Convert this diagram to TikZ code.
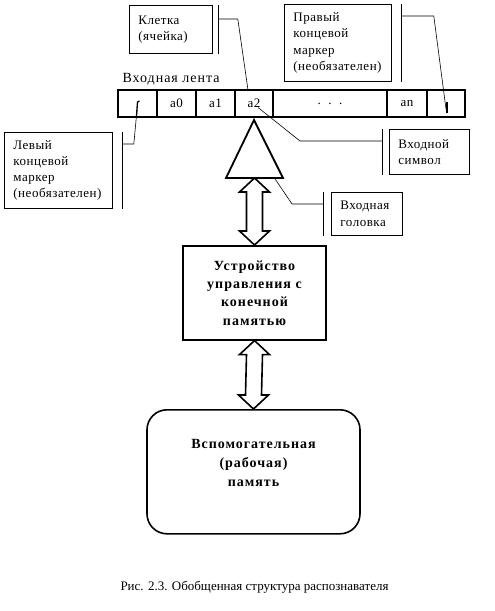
\documentclass[tikz,border=0pt]{standalone}
\usepackage{fontspec}
\setmainfont{Liberation Serif}
\newfontfamily\notefont{Liberation Serif}[LetterSpace=4]
\newfontfamily\widefont{Liberation Serif}[LetterSpace=7]
\usetikzlibrary{positioning,calc}

% double block arrow from #1 (upper tip) to #2 (lower tip)
\newcommand{\twoway}[2]{%
  \draw[block] (#1) -- ++(15,14) -- ++(-7,0) -- ($(#2)+(8,-14)$) -- ++(7,0)
    -- (#2) -- ++(-15,-14) -- ++(7,0) -- ($(#1)+(-8,14)$) -- ++(-7,0) -- cycle;}

\begin{document}
\begin{tikzpicture}[
        x=1pt, y=-1pt,
        every node/.style={font=\fontsize{13}{16.3}\notefont},
        note/.style={rectangle, draw, line width=0.8pt, anchor=north west, align=left, inner xsep=9pt, inner ysep=2pt},
        cell/.style={rectangle, draw, line width=1.6pt, minimum height=27pt, inner sep=0pt, outer sep=0pt},
        ctrl/.style={rectangle, draw, line width=1.6pt, align=center, minimum width=143pt, minimum height=94pt, font=\fontsize{14}{18.3}\widefont\bfseries},
        memory/.style={rectangle, draw, line width=1.6pt, rounded corners=20pt, align=center, minimum width=213pt, minimum height=124pt, text depth=17pt, font=\fontsize{14}{19}\widefont\bfseries},
        block/.style={line width=1.6pt, fill=white, line join=miter},
        callout/.style={line width=0.6pt}
    ]
    \useasboundingbox (0,0) rectangle (495,611);

    % Input tape
    \node[anchor=base west, font=\fontsize{14}{16}\widefont] (tapelabel) at (119,82) {Входная лента};
    \node[cell, anchor=north west, minimum width=39pt] (lmcell) at (118,90) {};
    \node[cell, right=0pt of lmcell, minimum width=39pt] (acell0) {a0};
    \node[cell, right=0pt of acell0, minimum width=39pt] (acell1) {a1};
    \node[cell, right=0pt of acell1, minimum width=38pt] (acell2) {a2};
    \node[cell, right=0pt of acell2, minimum width=114pt] (dots) {.\ \ .\ \ .};
    \node[cell, right=0pt of dots, minimum width=40pt] (ancell) {an};
    \node[cell, right=0pt of ancell, minimum width=38pt] (rmcell) {};

    % End markers
    \draw[line width=1.3pt] (136.5,116) -- (137.5,102) -- (139.5,101);
    \draw[line width=1.5pt] (447,102) -- (447,113);
    \coordinate (lmark) at (137,110);
    \coordinate (rmark) at (446,109);

    % Input head
    \coordinate (htip) at (254,120);
    \coordinate (hr) at (283,178);
    \coordinate (hl) at (226,178);
    \coordinate (hbase) at ($(hl)!0.5!(hr)$);
    \draw[line width=1.8pt, line join=miter] (htip) -- (hr) -- (hl) -- cycle;

    % Control unit and memory
    \node[ctrl, anchor=north] (ctrl) at (254.5,245) {Устройство\\управления с\\конечной\\памятью};
    \node[memory, anchor=north] (mem) at (253.5,409) {Вспомогательная\\(рабочая)\\память};
    \twoway{hbase}{ctrl.north}
    \twoway{ctrl.south}{mem.north}

    % Callouts
    \node[note, text width=65pt, minimum height=48pt] (cellnote) at (129,5) {Клетка\\(ячейка)};
    \node[note, text width=89pt, minimum height=77pt] (rmnote) at (284,4) {Правый\\концевой\\маркер\\(необязателен)};
    \node[note, text width=90pt, minimum height=76pt] (lmnote) at (4,132) {Левый\\концевой\\маркер\\(необязателен)};
    \node[note, text width=62pt, minimum height=45pt] (symnote) at (389,129) {Входной\\символ};
    \node[note, text width=53pt, minimum height=43pt] (headnote) at (331,192) {Входная\\головка};

    \draw[callout] ([xshift=5pt]cellnote.north east) -- ([xshift=5pt]cellnote.south east);
    \draw[callout] ([xshift=5pt,yshift=-14pt]cellnote.north east) -- ++(20,0) -- ([xshift=-6pt]acell2.north);
    \draw[callout] ([xshift=9pt]rmnote.north east) -- ([xshift=9pt]rmnote.south east);
    \draw[callout] ([xshift=9pt,yshift=-12pt]rmnote.north east) -- ++(33,0) -- (rmark);
    \draw[callout] ([xshift=9pt]lmnote.north east) -- ([xshift=9pt]lmnote.south east);
    \draw[callout] ([xshift=9pt,yshift=-12pt]lmnote.north east) -- ++(12,0) -- (lmark);
    \draw[callout] ([xshift=-7pt]symnote.north west) -- ([xshift=-7pt]symnote.south west);
    \draw[callout] ([xshift=-7pt,yshift=-12pt]symnote.north west) -- ++(-82,0) -- ([xshift=4pt,yshift=-4pt]acell2.center);
    \draw[callout] ([xshift=-8pt]headnote.north west) -- ([xshift=-8pt]headnote.south west);
    \draw[callout] ([xshift=-8pt,yshift=-12pt]headnote.north west) -- ++(-31,0) -- ($(hl)!0.85!(hr)$);

    % Caption
    \node[anchor=base, font=\fontsize{13}{16}\selectfont\rmfamily] (caption) at (254.5,590) {Рис. 2.3. Обобщенная структура распознавателя};

\end{tikzpicture}
\end{document}
